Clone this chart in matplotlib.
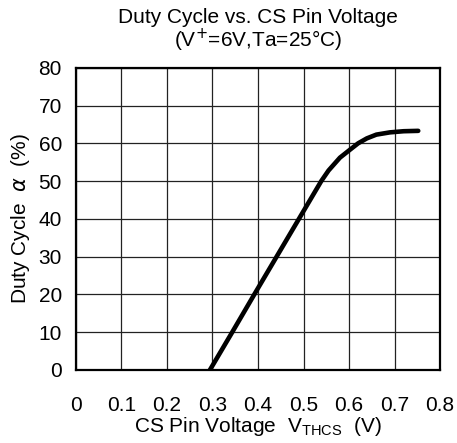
import matplotlib
matplotlib.use("Agg")
import matplotlib.pyplot as plt

# curve
cs_voltage = [0.2945, 0.3435, 0.392, 0.441, 0.490, 0.539, 0.555, 0.580,
              0.602, 0.620, 0.639, 0.660, 0.690, 0.720, 0.752]
duty_cycle = [0.0, 10.0, 20.0, 30.0, 40.0, 50.0, 52.8, 56.2,
              58.3, 60.0, 61.3, 62.3, 62.9, 63.2, 63.3]

x_ticks = [0, 0.1, 0.2, 0.3, 0.4, 0.5, 0.6, 0.7, 0.8]
x_labels = ["0", "0.1", "0.2", "0.3", "0.4", "0.5", "0.6", "0.7", "0.8"]
y_ticks = [0, 10, 20, 30, 40, 50, 60, 70, 80]

plt.rcParams["font.family"] = ["Liberation Sans", "DejaVu Sans"]

fig = plt.figure(figsize=(4.57, 4.43), dpi=100)
ax = fig.add_axes([0.166, 0.165, 0.797, 0.682])

ax.plot(cs_voltage, duty_cycle, color="black", linewidth=3.3,
        solid_capstyle="round", solid_joinstyle="round")

ax.set_xlim(0, 0.8)
ax.set_ylim(0, 80)
ax.set_xticks(x_ticks)
ax.set_xticklabels(x_labels)
ax.set_yticks(y_ticks)
ax.tick_params(axis="both", length=0, labelsize=15)
ax.tick_params(axis="x", pad=19)
ax.tick_params(axis="y", pad=10)
ax.grid(color="#222222", linewidth=0.9)
for side in ax.spines.values():
    side.set_linewidth(1.6)

ax.set_title("Duty Cycle vs. CS Pin Voltage\n(V$^{+}$=6V,Ta=25°C)",
             fontsize=15, linespacing=1.0, pad=15)
ax.set_xlabel("CS Pin Voltage  V$_{\\mathregular{THCS}}$  (V)", fontsize=15,
              labelpad=0)
ax.set_ylabel("Duty Cycle  $\\alpha$  (%)", fontsize=15, labelpad=5)

fig.savefig("out.png", dpi=100)
